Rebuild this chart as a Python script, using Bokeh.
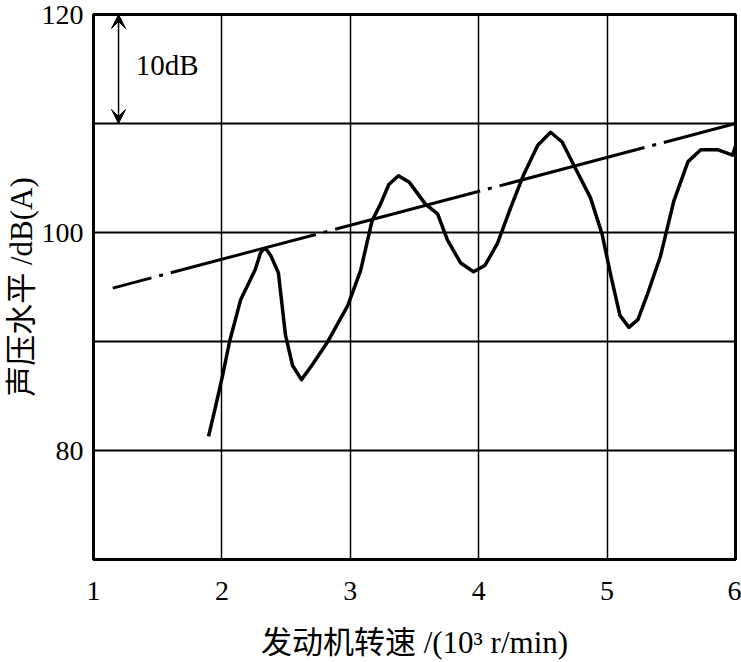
from bokeh.plotting import figure
from bokeh.models import FixedTicker, Arrow, VeeHead, Label, Range1d
from bokeh.embed import file_html
from bokeh.resources import INLINE

# Sound pressure level curve (x: engine speed 10^3 r/min, y: dB(A))
speed = [1.896, 1.95, 2.004, 2.06, 2.145, 2.26, 2.30, 2.324, 2.35, 2.38, 2.44, 2.495, 2.55,
         2.62, 2.70, 2.82, 2.98, 3.08, 3.17, 3.235, 3.30, 3.375, 3.46, 3.585,
         3.68, 3.757, 3.86, 3.96, 4.05, 4.146, 4.25, 4.35, 4.46, 4.56, 4.65,
         4.74, 4.87, 4.96, 5.03, 5.10, 5.17, 5.24, 5.31, 5.415, 5.52, 5.63,
         5.73, 5.86, 5.977, 6.0]
level = [81.3, 84.0, 86.8, 90.0, 93.8, 96.6, 98.1, 98.5, 98.4, 97.9, 96.3, 90.6, 87.8,
         86.5, 87.8, 89.9, 93.3, 96.5, 101.1, 102.6, 104.4, 105.2, 104.6, 102.6,
         101.7, 99.3, 97.2, 96.4, 97.0, 99.0, 102.3, 105.3, 108.0, 109.2, 108.3,
         106.2, 103.2, 99.9, 96.0, 92.4, 91.3, 92.0, 94.2, 97.8, 102.9, 106.5,
         107.6, 107.6, 107.1, 107.9]

# Dash-dot reference (limit) line
limit_x = [1.15, 6.0]
limit_y = [94.9, 110.0]

x_ticks = [1, 2, 3, 4, 5, 6]
y_label_ticks = [80, 100, 120]
y_grid_ticks = [80, 90, 100, 110]
x_grid_ticks = [2, 3, 4, 5]

# 10 dB scale bar
scale_x = 1.195
scale_y0, scale_y1 = 120, 110
scale_text = "10dB"

SERIF = "'Liberation Serif', 'Noto Sans CJK SC'"

p = figure(width=741, height=662, output_backend="svg", toolbar_location=None,
           x_range=Range1d(1, 6), y_range=Range1d(70, 120),
           min_border_left=85, min_border_right=6, min_border_top=14,
           min_border_bottom=102)

p.outline_line_color = "black"
p.outline_line_width = 3
p.background_fill_color = "white"
p.border_fill_color = "white"

p.xaxis.ticker = FixedTicker(ticks=x_ticks)
p.yaxis.ticker = FixedTicker(ticks=y_label_ticks)
p.xgrid.ticker = FixedTicker(ticks=x_grid_ticks)
p.ygrid.ticker = FixedTicker(ticks=y_grid_ticks)
p.xgrid.grid_line_color = "black"
p.ygrid.grid_line_color = "black"
p.xgrid.grid_line_width = 1.5
p.ygrid.grid_line_width = 2
p.xgrid.grid_line_alpha = 1
p.ygrid.grid_line_alpha = 1

for ax in (p.xaxis, p.yaxis):
    ax.axis_line_color = None
    ax.major_tick_line_color = None
    ax.minor_tick_line_color = None
    ax.major_label_text_font = SERIF
    ax.major_label_text_font_size = "28px"
    ax.major_label_text_color = "black"
    ax.axis_label_text_font = SERIF
    ax.axis_label_text_font_size = "31px"
    ax.axis_label_text_font_style = "normal"
    ax.axis_label_text_color = "black"

p.xaxis.major_label_standoff = 16
p.yaxis.major_label_standoff = 4
p.xaxis.axis_label = "发动机转速 /(10³ r/min)"
p.yaxis.axis_label = "声压水平 /dB(A)"
p.xaxis.axis_label_standoff = 22
p.yaxis.axis_label_standoff = 0

p.line(limit_x, limit_y, line_color="black", line_width=3,
       line_dash="150 8 4 8", line_dash_offset=110)
p.line(speed, level, line_color="black", line_width=3.5, line_join="round")

p.add_layout(Arrow(x_start=scale_x, y_start=(scale_y0 + scale_y1) / 2, x_end=scale_x, y_end=scale_y0,
                   line_color="black", line_width=1.5,
                   end=VeeHead(size=14, fill_color="black", line_color="black")))
p.add_layout(Arrow(x_start=scale_x, y_start=(scale_y0 + scale_y1) / 2, x_end=scale_x, y_end=scale_y1,
                   line_color="black", line_width=1.5,
                   end=VeeHead(size=14, fill_color="black", line_color="black")))
p.add_layout(Label(x=1.33, y=115.4, text=scale_text, text_font=SERIF,
                   text_font_size="29px", text_baseline="middle", text_align="left",
                   text_color="black"))

open("out.html", "w").write(file_html(p, INLINE))
